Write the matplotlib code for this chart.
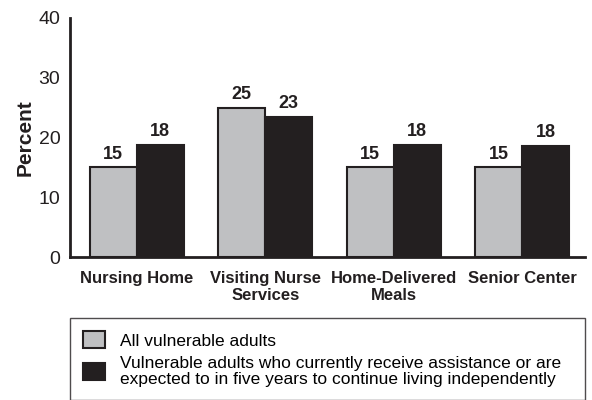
import matplotlib
matplotlib.use("Agg")
import matplotlib.pyplot as plt
import numpy as np

plt.rcParams['font.family'] = ['Liberation Sans', 'DejaVu Sans']

categories = ['Nursing Home', 'Visiting Nurse\nServices', 'Home-Delivered\nMeals', 'Senior Center']
all_adults = [15, 25, 15, 15]
assisted = [18.7, 23.5, 18.7, 18.6]
series_names = ['All vulnerable adults',
                'Vulnerable adults who currently receive assistance or are\n'
                'expected to in five years to continue living independently']

dark = '#231f20'
gray = '#bfc0c2'

fig = plt.figure(figsize=(5.92, 4.0), dpi=100)
ax = fig.add_axes([70/592, 1 - 257/400, (585 - 70)/592, (257 - 18)/400])

x = np.arange(len(categories))
w = 0.367
b1 = ax.bar(x - w/2, all_adults, w, color=gray, edgecolor=dark, linewidth=1.5, label=series_names[0])
b2 = ax.bar(x + w/2, assisted, w, color=dark, edgecolor=dark, linewidth=1.5, label=series_names[1])

for bars, vals in [(b1, all_adults), (b2, assisted)]:
    for rect, v in zip(bars, vals):
        ax.text(rect.get_x() + rect.get_width()/2, v + 0.8, f"{int(v)}",
                ha='center', va='bottom', fontsize=13, fontweight='bold', color=dark)

ax.set_ylim(0, 40)
ax.set_xlim(-0.52, 3.49)
ax.set_yticks([0, 10, 20, 30, 40])
ax.set_xticks(x)
ax.set_xticklabels(categories, fontsize=12, fontweight='bold', linespacing=1.15)
ax.tick_params(axis='y', length=0, labelsize=14, pad=7, colors=dark)
ax.tick_params(axis='x', length=0, pad=10, colors=dark)
ax.set_ylabel('Percent', fontsize=15, fontweight='bold', labelpad=3, color=dark)

for s in ['top', 'right']:
    ax.spines[s].set_visible(False)
for s in ['left', 'bottom']:
    ax.spines[s].set_linewidth(2)
    ax.spines[s].set_color(dark)

leg = fig.legend(handles=[b1, b2], labels=series_names, loc='upper left',
                 bbox_to_anchor=(70/592, 1 - 318/400, (585 - 70)/592, 0.0),
                 mode='expand', frameon=True, fancybox=False, fontsize=12.5,
                 handlelength=1.28, handleheight=1.15, handletextpad=0.85,
                 borderpad=0.75, labelspacing=0.45, borderaxespad=0)
leg.get_texts()[1].set_linespacing(1.05)
leg.get_frame().set_edgecolor(dark)
leg.get_frame().set_linewidth(1.0)

fig.savefig('out.png', dpi=100)
